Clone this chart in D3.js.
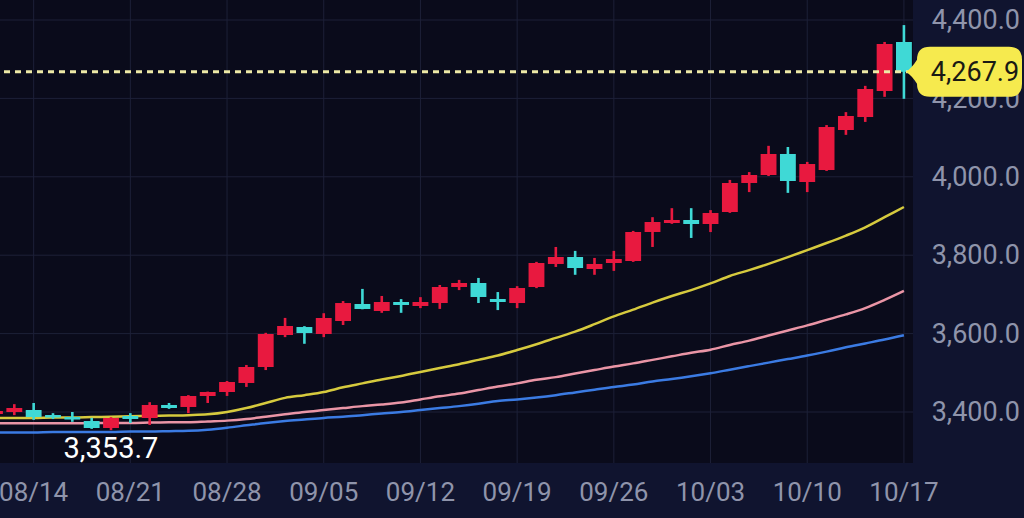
<!DOCTYPE html>
<meta charset="utf-8">
<style>
body { margin: 0; background: #10142f; }
text { font-family: Roboto, "Noto Sans", sans-serif; }
.grid line { stroke: #1d2038; stroke-width: 1; }
</style>
<svg width="1024" height="518"></svg>
<script src="https://d3js.org/d3.v7.min.js"></script>
<script>

// daily candles, 08/12 .. 10/17
var dates = ["08/12","08/13","08/14","08/15","08/18","08/19","08/20","08/21","08/22","08/25",
  "08/26","08/27","08/28","08/29","09/02","09/03","09/04","09/05","09/08","09/09",
  "09/10","09/11","09/12","09/15","09/16","09/17","09/18","09/19","09/22","09/23",
  "09/24","09/25","09/26","09/29","09/30","10/01","10/02","10/03","10/06","10/07",
  "10/08","10/09","10/10","10/13","10/14","10/15","10/16","10/17"];

var open  = [3394.9,3400.0,3405.1,3392.3,3387.2,3377.0,3359.2,3389.8,3384.7,3417.9,
  3412.8,3440.8,3451.0,3474.0,3514.8,3596.4,3616.8,3599.0,3632.1,3675.5,
  3657.7,3680.6,3670.4,3678.0,3718.9,3729.1,3688.3,3678.0,3718.9,3777.6,
  3795.4,3764.8,3780.1,3785.2,3859.2,3882.1,3889.8,3879.6,3910.2,3984.2,
  4004.6,4058.2,3986.7,4017.3,4119.4,4152.5,4218.9,4343.9];
var high  = [3410,3420,3423,3397,3400,3385,3387,3397,3425,3423,
  3443,3452,3479,3520,3602,3640,3619,3652,3683,3714,
  3696,3688,3693,3724,3737,3742,3706,3721,3783,3821,
  3811,3793,3811,3862,3897,3920,3920,3915,3992,4012,
  4079,4076,4038,4132,4165,4232,4344,4387];
var low   = [3390,3392,3380,3382,3375,3357,3353.7,3372,3367,3408,
  3397,3423,3441,3464,3507,3591,3574,3591,3622,3662,
  3653,3653,3665,3663,3711,3678,3660,3665,3716,3770,
  3750,3750,3760,3783,3821,3880,3844,3859,3908,3961,
  4002,3959,3961,4015,4107,4140,4204,4199];
var close = [3402.6,3410.2,3387.2,3387.2,3382.1,3359.2,3384.7,3382.1,3417.9,3410.2,
  3440.8,3451.0,3476.5,3514.8,3599.0,3619.4,3601.5,3639.8,3678.0,3662.8,
  3680.6,3673.0,3680.6,3718.9,3729.1,3693.4,3680.6,3716.3,3780.1,3795.4,
  3767.3,3777.6,3790.3,3859.2,3884.7,3889.8,3879.6,3907.7,3984.2,4004.6,
  4058.2,3989.3,4032.6,4127.0,4155.1,4224.0,4338.8,4267.9];

// moving averages
var maYellow = [3385,3385,3385,3386,3386,3387,3388,3389,3390,3391,3392,3394,
  3400,3410,3423,3436,3443,3451,3463,3473,3483,3492,3502,3512,
  3522,3533,3544,3558,3573,3589,3605,3624,3644,3661,3679,3696,
  3711,3728,3747,3762,3778,3795,3813,3831,3850,3871,3897,3923];
var maPink = [3371,3371,3371,3371,3371,3372,3372,3372,3373,3374,3374,3376,
  3378,3382,3388,3394,3400,3405,3410,3415,3419,3424,3432,3440,
  3447,3456,3465,3473,3482,3489,3498,3507,3516,3524,3533,3542,
  3551,3559,3571,3582,3595,3608,3621,3635,3649,3665,3686,3709];
var maBlue = [3348,3348,3348,3349,3349,3349,3349,3350,3350,3351,3352,3355,
  3360,3366,3372,3377,3381,3385,3388,3392,3396,3400,3405,3410,
  3415,3421,3428,3432,3437,3443,3450,3457,3464,3470,3478,3484,
  3491,3499,3508,3517,3526,3535,3544,3554,3565,3575,3585,3596];

var weekTicks = ["08/14","08/21","08/28","09/05","09/12","09/19","09/26","10/03","10/10","10/17"];
var priceTicks = [3400, 3600, 3800, 4000, 4200, 4400];
var lowLabel = 3353.7;

var svg = d3.select("svg"),
    width = +svg.attr("width"),
    height = +svg.attr("height"),
    plotW = 913,
    plotH = 463;

var up = "#e8193f", down = "#3fd9d6";

var x = d3.scaleBand().domain(dates).range([-14.7, 913.6]).paddingInner(0.18).paddingOuter(0.09);
var y = d3.scaleLinear().domain([3400, 4400]).range([412, 20]);
var fmt = d3.format(",.1f");

svg.append("rect").attr("width", width).attr("height", height).attr("fill", "#10142f");
svg.append("rect").attr("width", plotW).attr("height", plotH).attr("fill", "#0a0b1b");

svg.append("defs").append("clipPath").attr("id", "plot")
  .append("rect").attr("width", plotW).attr("height", plotH);

var plot = svg.append("g").attr("clip-path", "url(#plot)");

function cx(d) { return x(d) + x.bandwidth() / 2; }

// grid
var grid = plot.append("g").attr("class", "grid");
grid.selectAll(".h").data(priceTicks).enter().append("line")
    .attr("x1", 0).attr("x2", plotW)
    .attr("y1", function(d) { return y(d); }).attr("y2", function(d) { return y(d); });
grid.selectAll(".v").data(weekTicks).enter().append("line")
    .attr("y1", 0).attr("y2", plotH)
    .attr("x1", cx).attr("x2", cx);

// moving averages
var maLine = function(vals) {
  return d3.line()
    .x(function(d, i) { return cx(dates[i]); })
    .y(function(d) { return y(d); })
    .curve(d3.curveMonotoneX)(vals);
};
[[maBlue, "#3b7be3"], [maPink, "#ea95a6"], [maYellow, "#d6ca3e"]].forEach(function(m) {
  plot.append("path").attr("d", maLine(m[0]))
      .attr("fill", "none").attr("stroke", m[1]).attr("stroke-width", 2.5);
});

// candles
var candles = dates.map(function(d, i) {
  return { date: d, o: open[i], h: high[i], l: low[i], c: close[i] };
});
var cg = plot.append("g").selectAll("g").data(candles).enter().append("g");
cg.append("rect")
    .attr("x", function(d) { return cx(d.date) - 1.3; })
    .attr("width", 2.6)
    .attr("y", function(d) { return y(d.h); })
    .attr("height", function(d) { return y(d.l) - y(d.h); })
    .attr("fill", function(d) { return d.c >= d.o ? up : down; });
cg.append("rect")
    .attr("x", function(d) { return x(d.date); })
    .attr("width", x.bandwidth())
    .attr("y", function(d) { return y(Math.max(d.o, d.c)); })
    .attr("height", function(d) { return Math.max(2.5, Math.abs(y(d.o) - y(d.c))); })
    .attr("fill", function(d) { return d.c >= d.o ? up : down; });

// last price line
var last = close[close.length - 1];
plot.append("line")
    .attr("x1", 4).attr("x2", plotW)
    .attr("y1", y(last)).attr("y2", y(last))
    .attr("stroke", "#ede9a6").attr("stroke-width", 3)
    .attr("stroke-dasharray", "6,5");

// y axis labels
var yAxis = svg.append("g")
    .attr("transform", "translate(1020,0)")
    .call(d3.axisRight(y).tickValues(priceTicks).tickFormat(fmt).tickSize(0).tickPadding(0));
yAxis.select(".domain").remove();
yAxis.selectAll("text")
    .attr("text-anchor", "end")
    .attr("fill", "#8f94ab")
    .style("font-size", "27px");

// x axis labels
var xAxis = svg.append("g")
    .attr("transform", "translate(0," + plotH + ")")
    .call(d3.axisBottom(x).tickValues(weekTicks).tickSize(0).tickPadding(20));
xAxis.select(".domain").remove();
xAxis.selectAll("text")
    .attr("fill", "#8f94ab")
    .style("font-size", "26px");

// low marker
var lowIdx = low.indexOf(lowLabel);
svg.append("text")
    .attr("x", cx(dates[lowIdx]))
    .attr("y", 458)
    .attr("text-anchor", "middle")
    .attr("fill", "#ffffff")
    .style("font-size", "29px")
    .text(fmt(lowLabel));

// price tag
var ty = y(last), tx0 = 917, tx1 = 1022, tTop = ty - 25, tBot = ty + 25, tr = 13;
var p = d3.path();
p.moveTo(906, ty);
p.quadraticCurveTo(912, ty - 4, tx0, ty - 12);
p.lineTo(tx0, tTop + tr);
p.quadraticCurveTo(tx0, tTop, tx0 + tr, tTop);
p.lineTo(tx1 - tr, tTop);
p.quadraticCurveTo(tx1, tTop, tx1, tTop + tr);
p.lineTo(tx1, tBot - tr);
p.quadraticCurveTo(tx1, tBot, tx1 - tr, tBot);
p.lineTo(tx0 + tr, tBot);
p.quadraticCurveTo(tx0, tBot, tx0, tBot - tr);
p.lineTo(tx0, ty + 12);
p.quadraticCurveTo(912, ty + 4, 906, ty);
p.closePath();
svg.append("path").attr("d", p.toString()).attr("fill", "#f6ea4e");
svg.append("text")
    .attr("x", 975).attr("y", ty)
    .attr("dy", "0.35em")
    .attr("text-anchor", "middle")
    .attr("fill", "#1a1a14")
    .style("font-size", "27px")
    .text(fmt(last));

</script>
